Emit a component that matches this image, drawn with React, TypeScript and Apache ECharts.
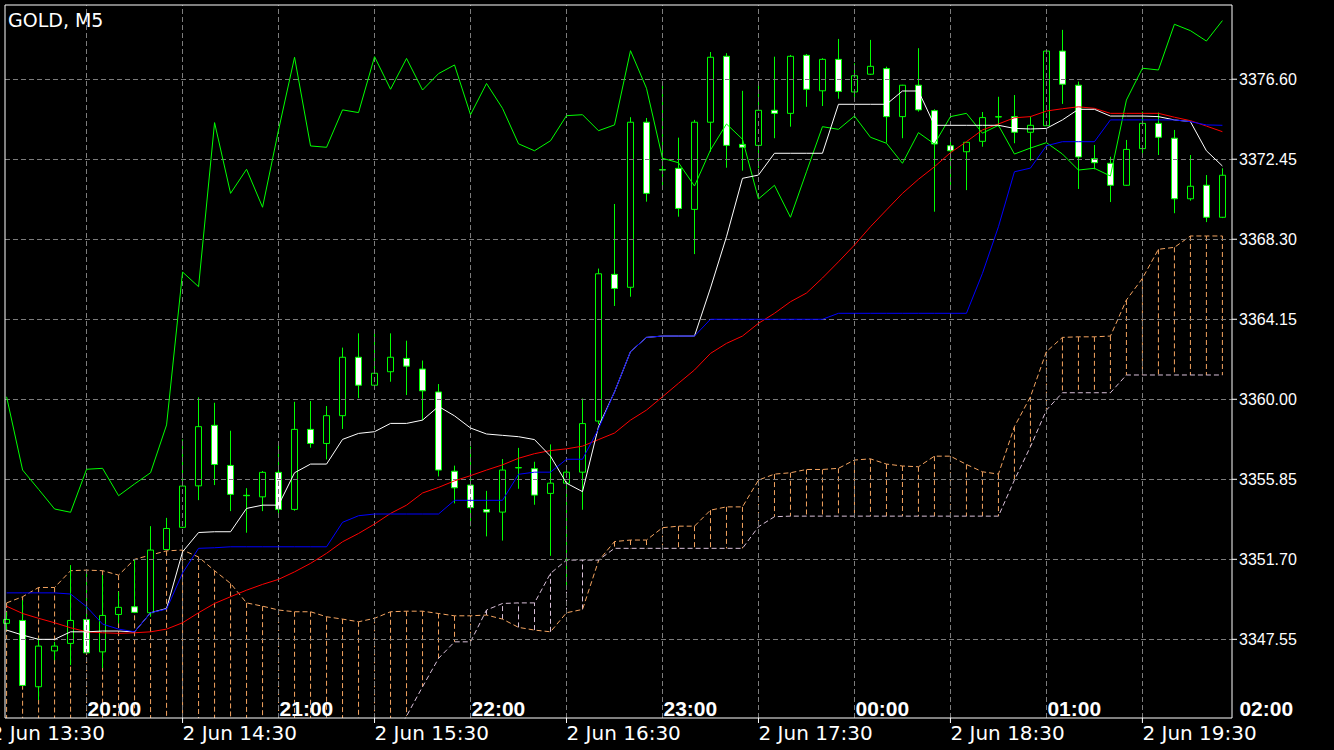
import { useEffect, useRef } from 'react';
import * as echarts from 'echarts';

// 5-minute bars, 2 Jun 13:35 .. 19:55 (slot 0 = 13:30)
const opens = [
  3348.38, 3348.53, 3345.09, 3346.95, 3347.34, 3348.58, 3346.90, 3348.84, 3349.24, 3348.93,
  3352.21, 3353.36, 3355.51, 3358.65, 3356.57, 3355.02, 3354.94, 3356.21, 3354.29, 3358.44,
  3357.71, 3359.15, 3362.18, 3360.73, 3361.43, 3362.12, 3361.57, 3360.38, 3356.27, 3355.55,
  3354.28, 3354.15, 3356.44, 3356.40, 3355.12, 3355.65, 3356.22, 3358.87, 3366.48, 3365.81,
  3374.37, 3371.91, 3371.98, 3369.85, 3374.37, 3377.79, 3373.22, 3373.17, 3374.99, 3374.83,
  3377.84, 3376.00, 3377.63, 3375.94, 3376.86, 3377.15, 3374.66, 3376.29, 3374.97, 3373.15,
  3372.84, 3373.38, 3374.64, 3374.66, 3373.85, 3374.19, 3378.06, 3376.29, 3372.48, 3372.24,
  3371.10, 3373.00, 3374.31, 3373.54, 3370.40, 3371.10, 3369.44,
];
const highs = [
  3348.96, 3349.58, 3347.60, 3347.42, 3351.40, 3351.14, 3350.88, 3350.02, 3351.71, 3353.42,
  3353.85, 3357.92, 3360.10, 3359.82, 3358.37, 3355.39, 3356.28, 3357.66, 3359.87, 3359.91,
  3359.65, 3362.68, 3363.42, 3363.59, 3363.42, 3363.04, 3362.01, 3360.79, 3356.56, 3357.55,
  3355.25, 3356.90, 3357.48, 3356.76, 3357.66, 3356.33, 3360.04, 3366.78, 3370.13, 3374.63,
  3374.59, 3376.25, 3373.57, 3374.49, 3378.01, 3377.95, 3376.00, 3376.25, 3377.77, 3377.86,
  3377.91, 3377.69, 3378.69, 3377.43, 3378.64, 3377.25, 3376.31, 3378.21, 3375.04, 3373.59,
  3373.35, 3374.90, 3375.69, 3375.78, 3374.66, 3378.12, 3379.16, 3376.48, 3373.19, 3372.58,
  3373.45, 3374.92, 3374.87, 3373.97, 3372.67, 3371.63, 3371.98,
];
const lows = [
  3348.03, 3345.12, 3344.40, 3346.47, 3346.21, 3346.84, 3346.06, 3348.38, 3348.91, 3348.72,
  3352.18, 3353.32, 3354.77, 3355.55, 3354.20, 3353.08, 3354.20, 3353.94, 3354.22, 3357.49,
  3356.88, 3358.46, 3360.06, 3360.69, 3360.91, 3360.22, 3358.92, 3356.00, 3354.60, 3353.41,
  3352.89, 3352.67, 3355.36, 3354.53, 3351.88, 3350.21, 3354.27, 3358.71, 3364.84, 3365.32,
  3370.25, 3370.85, 3369.47, 3367.53, 3372.84, 3372.01, 3371.86, 3371.98, 3373.54, 3374.14,
  3375.17, 3375.21, 3375.59, 3375.63, 3376.82, 3373.31, 3373.54, 3374.92, 3369.73, 3371.03,
  3370.85, 3373.10, 3374.14, 3373.28, 3372.37, 3374.18, 3375.32, 3370.91, 3371.93, 3370.23,
  3371.07, 3372.72, 3372.67, 3369.65, 3370.30, 3369.19, 3369.40,
];
const closes = [
  3348.58, 3345.16, 3347.20, 3347.20, 3348.53, 3346.85, 3348.79, 3349.21, 3348.95, 3352.18,
  3353.30, 3355.50, 3358.58, 3356.62, 3355.07, 3355.00, 3356.21, 3354.29, 3358.44, 3357.71,
  3359.15, 3362.18, 3360.73, 3361.35, 3362.18, 3361.72, 3360.44, 3356.33, 3355.41, 3354.38,
  3354.15, 3356.33, 3356.46, 3355.03, 3355.65, 3356.22, 3358.74, 3366.51, 3365.75, 3374.37,
  3370.68, 3371.89, 3369.90, 3374.37, 3377.74, 3373.17, 3373.07, 3374.99, 3374.83, 3377.79,
  3376.08, 3377.63, 3375.97, 3376.78, 3377.27, 3374.66, 3376.29, 3375.01, 3373.24, 3372.89,
  3373.33, 3374.61, 3374.66, 3373.85, 3374.21, 3378.06, 3376.34, 3372.57, 3372.27, 3371.10,
  3372.96, 3374.31, 3373.59, 3370.40, 3371.05, 3369.44, 3371.62,
];

const tenkan = [
  3348.03, 3347.77, 3347.55, 3347.55, 3347.94, 3347.94, 3347.98, 3347.98, 3347.94, 3348.93,
  3349.15, 3352.09, 3353.09, 3353.13, 3353.13, 3354.34, 3354.51, 3354.51, 3356.19, 3356.64,
  3356.64, 3357.92, 3358.23, 3358.32, 3358.75, 3358.75, 3358.92, 3359.63, 3359.14, 3358.51,
  3358.20, 3358.13, 3358.06, 3357.91, 3357.05, 3355.65, 3355.21, 3358.58, 3360.38, 3362.47,
  3363.21, 3363.28, 3363.28, 3363.28, 3365.77, 3368.43, 3371.46, 3371.63, 3372.76, 3372.76,
  3372.76, 3372.76, 3375.30, 3375.30, 3375.30, 3375.30, 3375.99, 3375.99, 3374.21, 3374.21,
  3374.21, 3374.21, 3374.21, 3374.05, 3374.02, 3374.05, 3374.49, 3375.04, 3375.04, 3374.69,
  3374.69, 3374.69, 3374.66, 3374.49, 3374.40, 3372.89, 3372.10,
];
const kijun = [
  3349.96, 3349.96, 3349.96, 3349.96, 3349.90, 3349.24, 3348.34, 3348.08, 3347.94, 3348.93,
  3349.12, 3350.99, 3352.27, 3352.30, 3352.35, 3352.35, 3352.35, 3352.35, 3352.35, 3352.35,
  3352.35, 3353.62, 3353.96, 3354.05, 3354.05, 3354.05, 3354.05, 3354.05, 3354.76, 3354.76,
  3354.76, 3354.76, 3356.11, 3356.22, 3356.22, 3356.89, 3356.89, 3358.47, 3360.38, 3362.47,
  3363.21, 3363.28, 3363.28, 3363.28, 3364.15, 3364.15, 3364.15, 3364.15, 3364.15, 3364.15,
  3364.15, 3364.15, 3364.46, 3364.46, 3364.46, 3364.46, 3364.46, 3364.46, 3364.46, 3364.46,
  3364.46, 3366.53, 3368.95, 3371.80, 3371.99, 3373.15, 3373.36, 3373.36, 3373.36, 3374.49,
  3374.49, 3374.49, 3374.49, 3374.49, 3374.40, 3374.23, 3374.21,
];
const redAverage = [
  3349.27, 3348.89, 3348.64, 3348.41, 3348.15, 3347.94, 3347.89, 3347.86, 3347.89, 3347.94,
  3348.08, 3348.41, 3348.93, 3349.41, 3349.76, 3350.10, 3350.40, 3350.66, 3351.05, 3351.49,
  3352.01, 3352.61, 3353.04, 3353.53, 3354.08, 3354.51, 3355.14, 3355.43, 3355.77, 3356.04,
  3356.33, 3356.60, 3356.94, 3357.18, 3357.34, 3357.43, 3357.57, 3357.91, 3358.25, 3358.92,
  3359.44, 3360.13, 3360.83, 3361.52, 3362.38, 3362.90, 3363.28, 3363.94, 3364.46, 3365.06,
  3365.51, 3366.29, 3367.13, 3368.00, 3368.95, 3369.82, 3370.68, 3371.41, 3372.06, 3372.79,
  3373.36, 3373.97, 3374.28, 3374.60, 3374.66, 3374.95, 3375.07, 3375.17, 3375.09, 3374.83,
  3374.83, 3374.83, 3374.83, 3374.63, 3374.45, 3374.17, 3373.88,
];
const chikou = [
  3360.13, 3356.33, 3355.33, 3354.31, 3354.14, 3356.37, 3356.42, 3355.00, 3355.61, 3356.19,
  3358.67, 3366.60, 3365.84, 3374.35, 3370.68, 3371.93, 3369.96, 3373.97, 3377.74, 3373.14,
  3373.07, 3375.01, 3374.87, 3377.77, 3376.08, 3377.68, 3376.04, 3376.89, 3377.34, 3374.76,
  3376.38, 3375.09, 3373.25, 3372.89, 3373.41, 3374.71, 3374.76, 3373.93, 3374.23, 3378.08,
  3376.13, 3372.50, 3372.27, 3371.06, 3372.93, 3374.28, 3373.49, 3370.39, 3371.10, 3369.44,
  3371.80, 3374.14, 3374.00, 3374.69, 3373.59, 3373.28, 3372.24, 3373.83, 3373.24, 3374.66,
  3374.83, 3373.80, 3374.21, 3372.72, 3373.03, 3373.31, 3372.72, 3371.89, 3371.98, 3371.58,
  3375.52, 3377.17, 3377.08, 3379.45, 3379.12, 3378.58, 3379.64,
];
const spanA = [
  3349.44, 3349.76, 3350.24, 3350.24, 3351.11, 3351.14, 3351.11, 3350.88, 3351.70, 3351.92,
  3352.14, 3352.18, 3351.82, 3351.11, 3350.45, 3349.44, 3349.27, 3349.07, 3348.98, 3348.98,
  3348.72, 3348.60, 3348.46, 3348.64, 3348.98, 3349.01, 3349.01, 3348.89, 3348.77, 3348.77,
  3348.81, 3348.60, 3348.17, 3348.03, 3347.94, 3348.93, 3349.10, 3351.62, 3352.62, 3352.70,
  3352.70, 3353.34, 3353.42, 3353.42, 3354.25, 3354.42, 3354.42, 3355.81, 3356.12, 3356.19,
  3356.36, 3356.36, 3356.42, 3356.85, 3356.91, 3356.64, 3356.54, 3356.50, 3357.05, 3357.05,
  3356.62, 3356.24, 3356.12, 3358.58, 3360.13, 3362.47, 3363.21, 3363.24, 3363.24, 3363.28,
  3365.15, 3366.27, 3367.78, 3367.88, 3368.47, 3368.47, 3368.47,
];
const spanB = [
  3342.20, 3342.20, 3342.20, 3342.20, 3342.20, 3342.20, 3342.20, 3342.20, 3342.20, 3342.20,
  3342.20, 3342.20, 3342.20, 3342.20, 3342.20, 3342.20, 3342.20, 3342.20, 3342.20, 3342.20,
  3342.20, 3342.20, 3342.20, 3342.20, 3342.20, 3343.57, 3345.09, 3346.56, 3347.42, 3347.42,
  3349.07, 3349.41, 3349.44, 3349.44, 3350.97, 3351.66, 3351.66, 3351.66, 3352.27, 3352.27,
  3352.27, 3352.27, 3352.27, 3352.27, 3352.27, 3352.27, 3352.27, 3353.39, 3353.91, 3353.94,
  3353.94, 3353.94, 3353.94, 3353.94, 3353.94, 3353.94, 3353.94, 3353.94, 3353.94, 3353.94,
  3353.94, 3353.94, 3353.94, 3355.81, 3357.54, 3359.44, 3360.34, 3360.34, 3360.34, 3360.34,
  3361.26, 3361.26, 3361.26, 3361.26, 3361.26, 3361.26, 3361.26,
];

const priceTicks = ['3347.55', '3351.70', '3355.85', '3360.00', '3364.15', '3368.30', '3372.45', '3376.60'];
const gridSlots = [6, 12, 18, 24, 30, 36, 42, 48, 54, 60, 66, 72];
const serverSlots = [0, 12, 24, 36, 48, 60, 72];
const serverLabels = ['2 Jun 13:30', '2 Jun 14:30', '2 Jun 15:30', '2 Jun 16:30', '2 Jun 17:30', '2 Jun 18:30', '2 Jun 19:30'];
const localSlots = [6, 18, 30, 42, 54, 66, 78];
const localLabels = ['20:00', '21:00', '22:00', '23:00', '00:00', '01:00', '02:00'];
const title = 'GOLD, M5';

const X_MIN = 0.9;
const X_MAX = 77.6;
const Y_MIN = 3343.47;
const Y_MAX = 3380.45;

export default function App() {
  const ref = useRef<HTMLDivElement>(null);

  useEffect(() => {
    if (!ref.current) return;
    const chart = echarts.init(ref.current, null, { renderer: 'svg' });
    const slot = (i: number) => i + 1;

    const lineSeries = (values: number[], color: string, z: number, dashed = false) => ({
      type: 'line',
      data: values.map((v, i) => [slot(i), v]),
      symbol: 'none',
      showSymbol: false,
      silent: true,
      clip: true,
      z,
      lineStyle: { color, width: 1, type: dashed ? [5, 3] : 'solid' },
      emphasis: { disabled: true },
    });

    chart.setOption({
      animation: false,
      backgroundColor: '#000000',
      grid: {
        left: 5,
        top: 5,
        right: 102,
        bottom: 32,
        show: true,
        borderColor: '#ffffff',
        borderWidth: 1,
        backgroundColor: 'transparent',
        z: 10,
      },
      xAxis: { type: 'value', min: X_MIN, max: X_MAX, show: false, splitLine: { show: false } },
      yAxis: { type: 'value', min: Y_MIN, max: Y_MAX, show: false, scale: true, splitLine: { show: false } },
      series: [
        {
          type: 'line',
          data: [],
          z: 1,
          silent: true,
          markLine: {
            silent: true,
            symbol: ['none', 'none'],
            label: { show: false },
            emphasis: { disabled: true },
            lineStyle: { color: '#7c7c7c', type: [5, 3], width: 1 },
            data: [
              ...priceTicks.map((v) => ({ yAxis: Number(v) })),
              ...gridSlots.map((s) => ({ xAxis: s })),
            ],
          },
        },
        {
          type: 'custom',
          z: 2,
          silent: true,
          clip: true,
          data: spanA.map((a, i) => [slot(i), a, spanB[i]]),
          encode: { x: 0, y: [1, 2] },
          renderItem: (_params: any, api: any) => {
            const x = api.value(0);
            const a = api.value(1);
            const b = api.value(2);
            const p1 = api.coord([x, a]);
            const p2 = api.coord([x, b]);
            return {
              type: 'line',
              shape: { x1: p1[0], y1: p1[1], x2: p2[0], y2: p2[1] },
              style: { stroke: a >= b ? '#f4a460' : '#d8bfd8', lineWidth: 1, lineDash: [5, 3] },
            };
          },
        },
        lineSeries(spanA, '#f4a460', 3, true),
        lineSeries(spanB, '#d8bfd8', 3, true),
        {
          type: 'candlestick',
          z: 4,
          silent: true,
          clip: true,
          barWidth: 7,
          data: opens.map((o, i) => [slot(i), o, closes[i], lows[i], highs[i]]),
          encode: { x: 0, y: [1, 2, 3, 4] },
          itemStyle: {
            color: '#000000',
            color0: '#ffffff',
            borderColor: '#00ff00',
            borderColor0: '#00ff00',
            borderColorDoji: '#00ff00',
            borderWidth: 1,
          },
          emphasis: { disabled: true },
        },
        lineSeries(chikou, '#00ff00', 5),
        lineSeries(redAverage, '#ff0000', 5),
        lineSeries(tenkan, '#ffffff', 6),
        lineSeries(kijun, '#0000ff', 7),
      ],
    });

    const toPx = (x: number, y: number) => chart.convertToPixel({ gridIndex: 0 }, [x, y]) as number[];
    const bottomY = toPx(X_MIN, Y_MIN)[1];
    const rightX = toPx(X_MAX, Y_MIN)[0];

    const graphics: any[] = [];
    const textEl = (text: string, x: number, y: number, size: number, family: string, align: string, weight = 'normal') => ({
      type: 'text',
      x,
      y,
      z: 100,
      silent: true,
      style: {
        text,
        fill: '#ffffff',
        fontSize: size,
        fontFamily: family,
        fontWeight: weight,
        align,
        verticalAlign: 'middle',
        textAlign: align,
        textVerticalAlign: 'middle',
      },
    });
    const lineEl = (x1: number, y1: number, x2: number, y2: number) => ({
      type: 'line',
      z: 100,
      silent: true,
      shape: { x1, y1, x2, y2 },
      style: { stroke: '#ffffff', lineWidth: 1 },
    });

    graphics.push(textEl(title, 8, 20, 19, '"DejaVu Sans", sans-serif', 'left'));

    priceTicks.forEach((t) => {
      const y = toPx(X_MIN, Number(t))[1];
      graphics.push(lineEl(rightX, y, rightX + 5, y));
      graphics.push(textEl(t, rightX + 7, y, 16, '"Liberation Sans", Arial, sans-serif', 'left'));
    });

    serverSlots.forEach((s, i) => {
      const x = toPx(s, Y_MIN)[0];
      if (x > 6) graphics.push(lineEl(x, bottomY, x, bottomY + 5));
      graphics.push(textEl(serverLabels[i], x, bottomY + 15, 20, '"DejaVu Sans", sans-serif', 'left'));
    });

    localSlots.forEach((s, i) => {
      const x = toPx(s, Y_MIN)[0];
      graphics.push(textEl(localLabels[i], x + 1, bottomY - 10, 21, '"Liberation Sans", Arial, sans-serif', 'left', 'bold'));
    });

    chart.setOption({ graphic: { elements: graphics } });

    return () => chart.dispose();
  }, []);

  return (
    <div
      ref={ref}
      style={{ position: 'fixed', left: 0, top: 0, width: 1334, height: 750, background: '#000000' }}
    />
  );
}
